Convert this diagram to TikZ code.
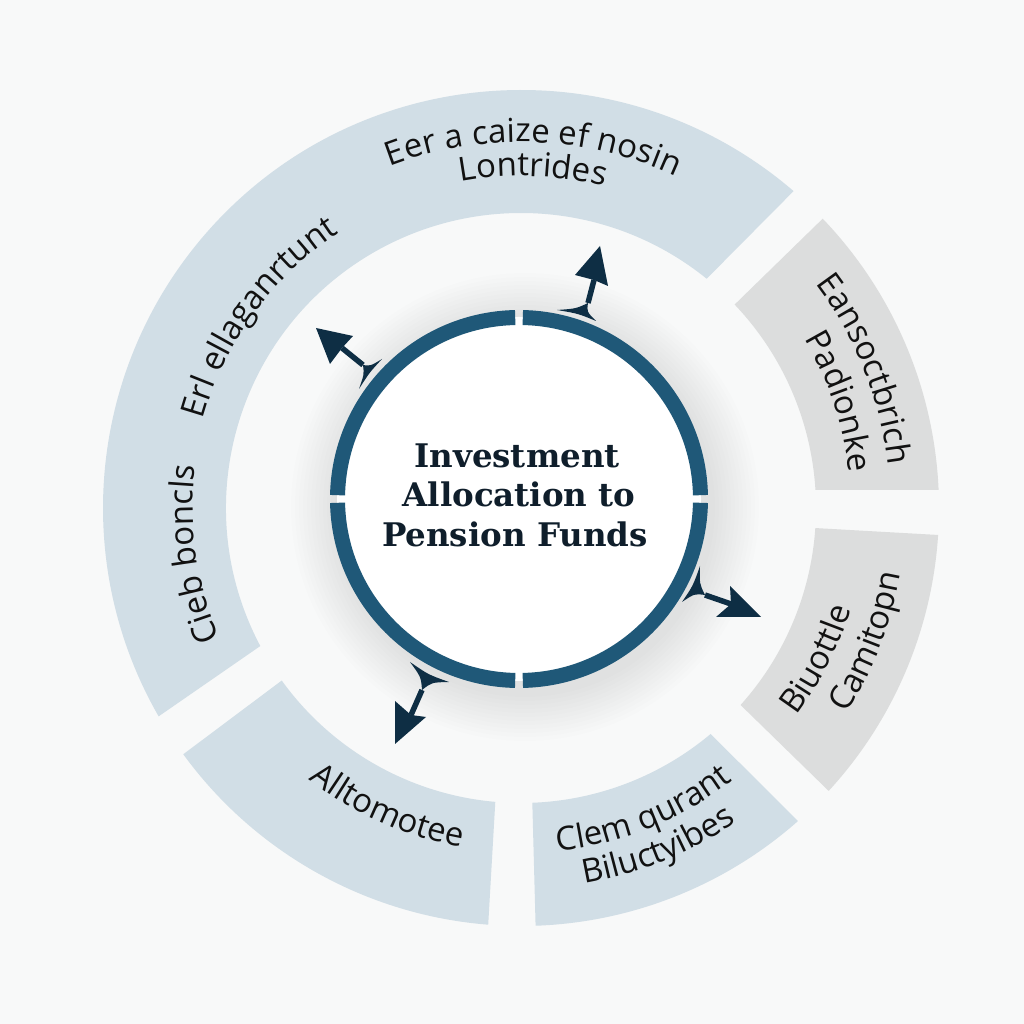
\documentclass[tikz,border=0pt]{standalone}
\usepackage{fontspec}
\setmainfont{Open Sans}
\newfontfamily\titlefamily{DejaVu Serif}
\newfontfamily\lblfamily{Open Sans}
\usetikzlibrary{decorations.text,calc}
\definecolor{bg}{HTML}{F8F9F9}
\definecolor{bandblue}{HTML}{D1DEE6}
\definecolor{bandgray}{HTML}{DCDDDD}
\definecolor{ringc}{HTML}{1F5878}
\definecolor{arrowc}{HTML}{0E2E44}
\definecolor{txtc}{HTML}{111111}
\definecolor{titlec}{HTML}{0F1E2B}
\newcommand\lblf{\lblfamily\fontsize{33}{33}\selectfont}
\begin{document}
\begin{tikzpicture}[x=1pt,y=1pt,
  blueband/.style={fill=bandblue},
  grayband/.style={fill=bandgray},
  ringarc/.style={draw=ringc, line width=15pt},
  lbl/.style={decorate, decoration={text along path, text align=center, text color=txtc, text={#1}}},
  titletext/.style={anchor=base, text=titlec, font=\titlefamily\bfseries\fontsize{32.5}{32.5}\selectfont},
  arrowfill/.style={fill=arrowc},
  shaft/.style={draw=arrowc, line width=5.5pt}]
\useasboundingbox (0,0) rectangle (1024,1024);
\fill[bg] (0,0) rectangle (1024,1024);

% outer segments
\begin{scope}[shift={(521,516)}]
  \fill[blueband] (49.3:418) arc[start angle=49.3, end angle=209.9, radius=418]
     -- (207.9:295) arc[start angle=207.9, end angle=51, radius=295] -- cycle;
  \fill[grayband] (2.5:418) arc[start angle=2.5, end angle=43.8, radius=418]
     -- (43.6:295) arc[start angle=43.6, end angle=3.5, radius=295] -- cycle;
  \fill[grayband] (-3.7:418) arc[start angle=-3.7, end angle=-42.6, radius=418]
     -- (-41.9:295) arc[start angle=-41.9, end angle=-3.9, radius=295] -- cycle;
  \fill[blueband] (-48.5:418) arc[start angle=-48.5, end angle=-88, radius=418]
     -- (-87.8:295) arc[start angle=-87.8, end angle=-50, radius=295] -- cycle;
  \fill[blueband] (216.1:418) arc[start angle=216.1, end angle=265.5, radius=418]
     -- (265:295) arc[start angle=265, end angle=215.8, radius=295] -- cycle;

  % labels
  \path[lbl={|\lblf|Eer a caize ef nosin}] (128:366) arc[start angle=128, end angle=48, radius=366];
  \path[lbl={|\lblf|Lontrides}] (128:332) arc[start angle=128, end angle=48, radius=332];
  \path[lbl={|\lblf|Erl ellaganrtunt}] (190:330) arc[start angle=190, end angle=98, radius=330];
  \path[lbl={|\lblf|Cieb boncls}] (230:328) arc[start angle=230, end angle=146, radius=328];
  \path[lbl={|\lblf|Alltomotee}] (206:344) arc[start angle=206, end angle=286, radius=344];
  \path[lbl={|\lblf|Clem qurant}] (-108:345) arc[start angle=-108, end angle=-28, radius=345];
  \path[lbl={|\lblf|Biluctyibes}] (-108:381) arc[start angle=-108, end angle=-28, radius=381];
  \path[lbl={|\lblf|Eansoctbrich}] (62:370) arc[start angle=62, end angle=-18, radius=370];
  \path[lbl={|\lblf|Padionke}] (58.5:330) arc[start angle=58.5, end angle=-21.5, radius=330];
  \path[lbl={|\lblf|Biuottle}] (-67:345) arc[start angle=-67, end angle=13, radius=345];
  \path[lbl={|\lblf|Camitopn}] (-61:385) arc[start angle=-61, end angle=19, radius=385];
\end{scope}

% shadow and inner disc
\foreach \k in {0,...,11} {
  \fill[black, opacity=0.007] (525,517) circle[radius=190+4*\k];
}
\fill[white] (519,525) circle[radius=182];

% inner ring (four arcs with small gaps)
\begin{scope}[shift={(519,525)}]
  \draw[ringarc] (1.2:181.5) arc[start angle=1.2, end angle=88.8, radius=181.5];
  \draw[ringarc] (91.2:181.5) arc[start angle=91.2, end angle=178.8, radius=181.5];
  \draw[ringarc] (181.2:181.5) arc[start angle=181.2, end angle=268.8, radius=181.5];
  \draw[ringarc] (271.2:181.5) arc[start angle=271.2, end angle=358.8, radius=181.5];
\end{scope}

% title
\node[titletext] (title1) at (517,556) {Investment};
\node[titletext] (title2) at (519,517) {Allocation to};
\node[titletext] (title3) at (515,477) {Pension Funds};

% arrows
\coordinate (a1T) at (600,778); \coordinate (a1W) at (575,749); \coordinate (a1V) at (608,738);
\coordinate (a1H) at (594,744); \coordinate (a1J) at (588,721); \coordinate (a1P) at (557,714); \coordinate (a1Q) at (596,703);
\coordinate (a2T) at (316,696); \coordinate (a2W) at (353,688); \coordinate (a2V) at (330,660);
\coordinate (a2H) at (342,676); \coordinate (a2J) at (363,659); \coordinate (a2P) at (382,665); \coordinate (a2Q) at (359,635);
\coordinate (a3T) at (761,407); \coordinate (a3W) at (730,438); \coordinate (a3V) at (716,407);
\coordinate (a3H) at (731,420); \coordinate (a3J) at (705,429); \coordinate (a3P) at (700,458); \coordinate (a3Q) at (682,422);
\coordinate (a4T) at (395,280); \coordinate (a4W) at (395,323); \coordinate (a4V) at (426,307);
\coordinate (a4H) at (411,309); \coordinate (a4J) at (422,334); \coordinate (a4P) at (410,362); \coordinate (a4Q) at (449,342);
\foreach \a in {a1,a2,a3,a4} {
  \draw[shaft] (\a J) -- (\a H);
  \fill[arrowfill] (\a T) -- (\a W) -- (\a H) -- (\a V) -- cycle;
  \coordinate (\a G) at ($(\a J)!0.5!(\a P)!0.3333!(\a Q)$);
  \fill[arrowfill] (\a J)
     .. controls ($(\a J)!0.5!(\a P)!0.45!(\a G)$) .. (\a P)
     .. controls ($(\a P)!0.5!(\a Q)!0.45!(\a G)$) .. (\a Q)
     .. controls ($(\a Q)!0.5!(\a J)!0.45!(\a G)$) .. (\a J) -- cycle;
}
\end{tikzpicture}
\end{document}
